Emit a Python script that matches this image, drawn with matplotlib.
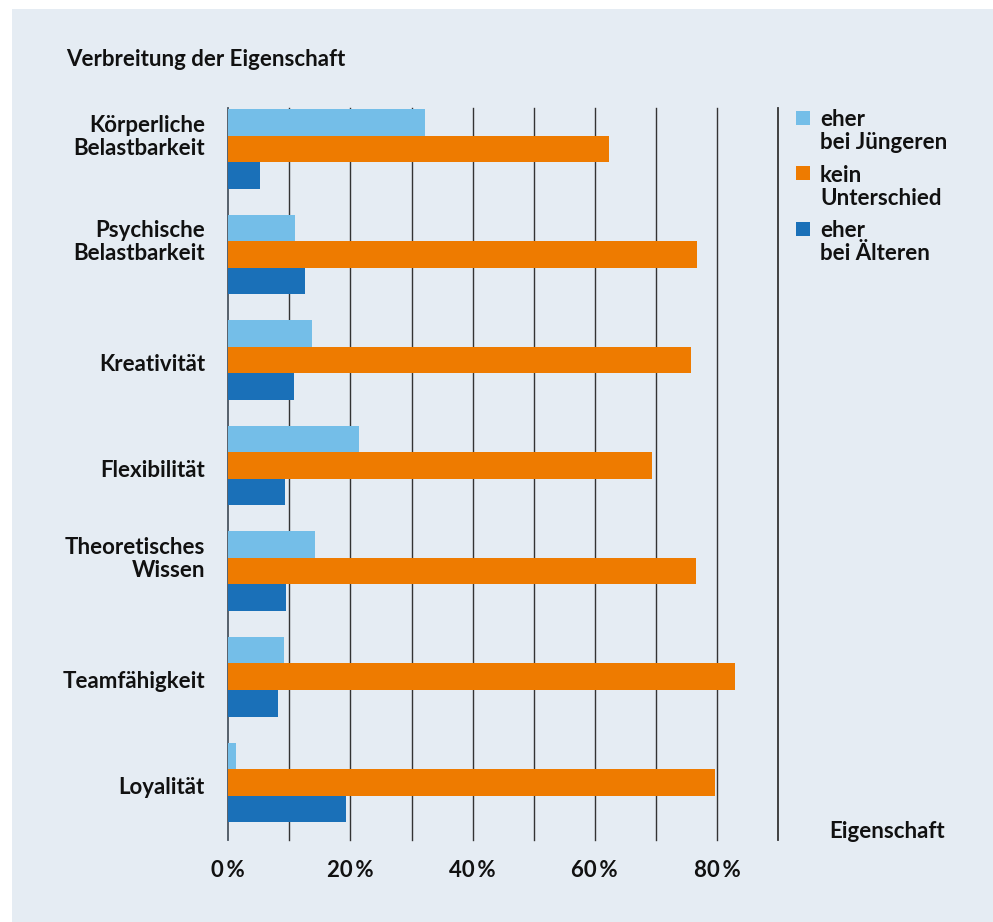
import numpy as np
import matplotlib.pyplot as plt
from matplotlib.transforms import offset_copy, blended_transform_factory

# Anteile in Prozent je Eigenschaft
eigenschaften = ["Körperliche\nBelastbarkeit", "Psychische\nBelastbarkeit", "Kreativität",
                 "Flexibilität", "Theoretisches\nWissen", "Teamfähigkeit", "Loyalität"]
juenger = [32.2, 10.9, 13.7, 21.4, 14.2, 9.1, 1.3]
kein_unterschied = [62.3, 76.8, 75.8, 69.4, 76.6, 83.0, 79.7]
aelter = [5.2, 12.6, 10.8, 9.3, 9.5, 8.1, 19.3]

serien = ["eher\nbei Jüngeren", "kein\nUnterschied", "eher\nbei Älteren"]
farben = ["#74BEE8", "#EE7B00", "#1A70B8"]
ticks = [0, 20, 40, 60, 80]

BG = "#E5ECF3"
W, H = 993, 922
FS = 16
plt.rcParams["font.family"] = ["Lato", "DejaVu Sans"]
plt.rcParams["font.weight"] = "bold"

fig = plt.figure(figsize=(W / 100, H / 100), dpi=100, facecolor="white")
# hellblaue Fläche
fig.patches.append(plt.Rectangle((12 / W, 0), 1, 1 - 9 / H, transform=fig.transFigure,
                                 facecolor=BG, edgecolor="none", zorder=-5))

ax = fig.add_axes([228.3 / W, 1 - 840 / H, (778 - 228.3) / W, (840 - 108) / H])
ax.set_facecolor("none")
ax.set_zorder(2)

y = np.arange(len(eigenschaften))
h = 0.251
for i, (werte, farbe) in enumerate(zip([juenger, kein_unterschied, aelter], farben)):
    ax.barh(y + (i - 1) * h, werte, height=h, color=farbe, zorder=3, linewidth=0)

ax.set_xlim(0, 90)
ax.set_ylim(6.546, -0.386)
for x in range(0, 91, 10):
    ax.axvline(x, color="#4a5560" if x == 0 else "#333333",
               lw=1.3 if x in (0, 90) else 1.0, zorder=2, clip_on=False)
for s in ax.spines.values():
    s.set_visible(False)
ax.set_xticks([])
ax.set_yticks([])

# Kategorien links
trans = blended_transform_factory(fig.transFigure, ax.transData)
for i, name in enumerate(eigenschaften):
    dy = 12 if "\n" in name else -5
    t = offset_copy(trans, fig=fig, x=0, y=dy, units="dots")
    ax.text(205 / W, i, name, transform=t, ha="right", va="center",
            fontsize=FS, fontweight="bold", linespacing=1.12, color="#111111")

# Prozentangaben unten
tx = blended_transform_factory(ax.transData, fig.transFigure)
for v in ticks:
    ax.text(v, 1 - 870 / H, f"{v}\u2009%", transform=tx, ha="center", va="center",
            fontsize=FS, fontweight="bold", color="#111111")

fig.text(66 / W, 1 - 60 / H, "Verbreitung der Eigenschaft", ha="left", va="center",
         fontsize=FS, fontweight="bold", color="#111111")
fig.text(945 / W, 1 - 831 / H, "Eigenschaft", ha="right", va="center",
         fontsize=FS, fontweight="bold", color="#111111")

# Legende
for k, (name, farbe) in enumerate(zip(serien, farben)):
    top = 111 + k * 55.5
    fig.patches.append(plt.Rectangle((796 / W, 1 - (top + 14) / H), 14 / W, 14 / H,
                                     transform=fig.transFigure, facecolor=farbe,
                                     edgecolor="none", zorder=3))
    fig.text(820 / W, 1 - (top - 2) / H, name, ha="left", va="top", fontsize=FS,
             fontweight="bold", linespacing=1.12, color="#111111")

fig.savefig("out.png", dpi=100, facecolor="white")
